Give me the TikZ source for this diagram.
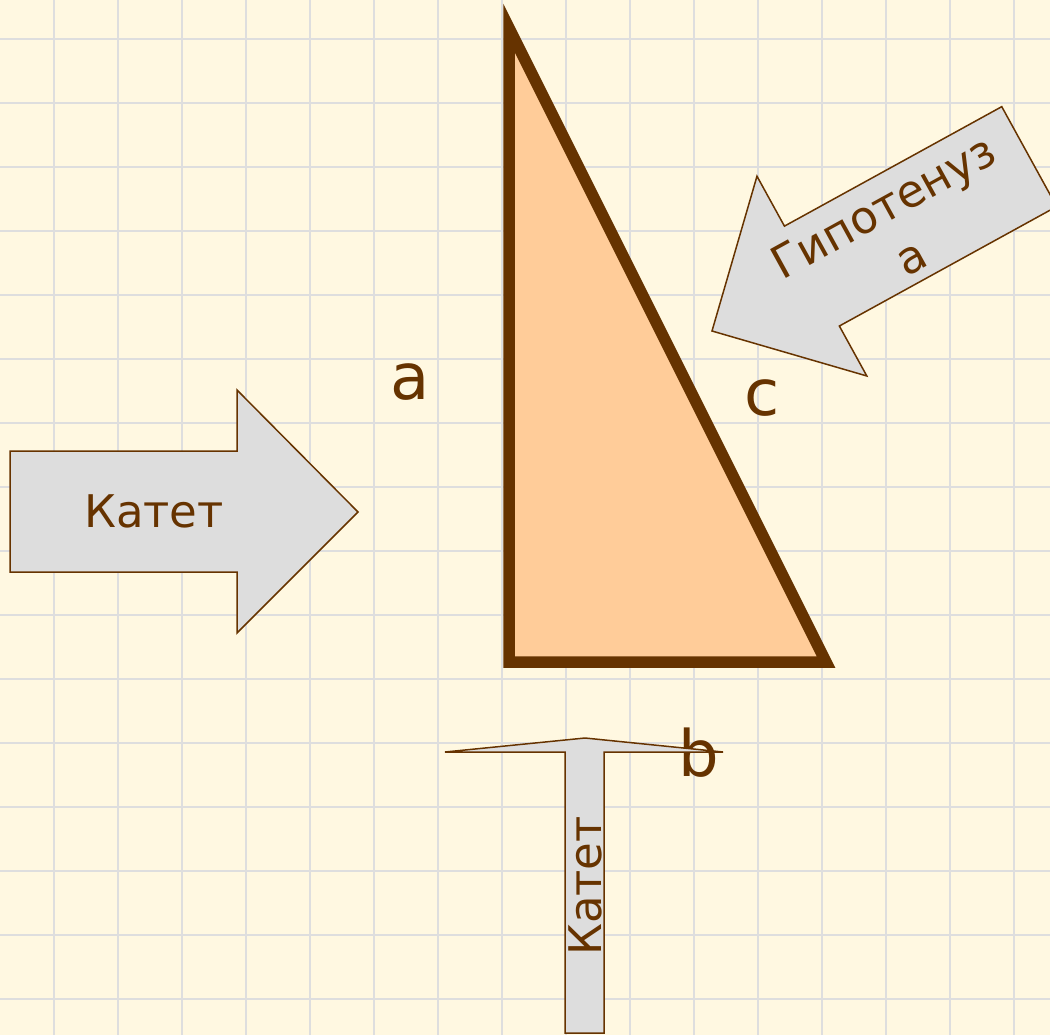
\documentclass[tikz,border=0pt]{standalone}
\usepackage{fontspec}
\setmainfont{DejaVu Sans}

\definecolor{paper}{HTML}{FFF8E1}
\definecolor{gridgray}{HTML}{DEDEDE}
\definecolor{brownline}{HTML}{663300}
\definecolor{peach}{HTML}{FFCC99}
\definecolor{arrowgray}{HTML}{DDDDDD}

\tikzset{
  arrowshape/.style={draw=brownline, fill=arrowgray, line width=1.5pt, line join=miter},
  arrowtext/.style={text=brownline, font=\fontsize{45}{57}\selectfont, align=center, inner sep=0pt},
  sidelabel/.style={text=brownline, font=\fontsize{64}{70}\selectfont, inner sep=0pt}
}

\begin{document}
\begin{tikzpicture}[x=1pt, y=-1pt]
    % --- фон и сетка ---
    \fill[paper] (0,0) rectangle (1050,1035);
    \useasboundingbox (0,0) rectangle (1050,1035);
    \foreach \gx in {54,118,...,1014} \draw[gridgray, line width=2pt] (\gx,0) -- (\gx,1035);
    \foreach \gy in {39,103,...,999} \draw[gridgray, line width=2pt] (0,\gy) -- (1050,\gy);

    % --- треугольник ---
    \coordinate (A) at (509,28);
    \coordinate (C) at (509,662);
    \coordinate (B) at (826,662);
    \draw[brownline, fill=peach, line width=11.5pt, line join=miter] (A) -- (C) -- (B) -- cycle;

    % --- подписи сторон ---
    \node[sidelabel] (la) at (410,382) {a};
    \node[sidelabel] (lc) at (762,398) {c};
    \node[sidelabel] (lb) at (699,753) {b};

    % --- стрелка слева (катет a) ---
    \draw[arrowshape] (10,451) -- (237,451) -- (237,390) -- (358,512)
        -- (237,633) -- (237,572) -- (10,572) -- cycle;
    \node[arrowtext] (katetA) at (154,511) {Катет};

    % --- стрелка снизу (катет b) ---
    \draw[arrowshape] (565,1033) -- (565,752) -- (445,752) -- (585,738)
        -- (723,752) -- (604,752) -- (604,1033) -- cycle;
    \node[arrowtext, rotate=90] (katetB) at (585,886) {Катет};

    % --- стрелка к гипотенузе (повёрнута) ---
    \begin{scope}[shift={(712,331)}, rotate=28.8]
        \draw[arrowshape] (0,0) -- (114,-114) -- (114,-57) -- (362,-57)
            -- (362,57) -- (114,57) -- (114,114) -- cycle;
        \node[arrowtext, rotate=28.8] (hyp) at (210,2) {Гипотенуз\\а};
    \end{scope}

\end{tikzpicture}
\end{document}
